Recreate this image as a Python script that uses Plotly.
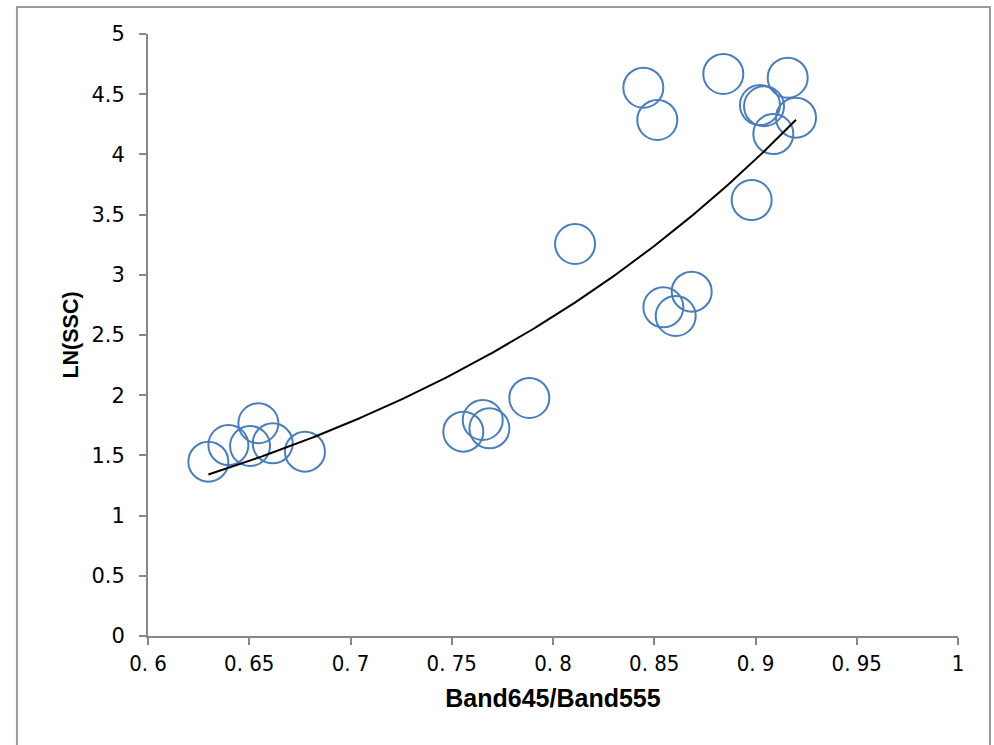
import numpy as np
import plotly.graph_objects as go

# Band645/Band555 ratio (x) and LN(SSC) (y)
band_ratio = [0.6298, 0.6397, 0.6504, 0.6545, 0.6616, 0.6775,
              0.7557, 0.7653, 0.7686, 0.7883,
              0.8109, 0.8446, 0.8515, 0.8545, 0.8606, 0.8685,
              0.8841, 0.8981, 0.9022, 0.9042, 0.9088, 0.9159, 0.9200]
ln_ssc = [1.448, 1.586, 1.578, 1.767, 1.600, 1.531,
          1.697, 1.794, 1.725, 1.977,
          3.256, 4.554, 4.286, 2.730, 2.658, 2.860,
          4.668, 3.621, 4.410, 4.400, 4.169, 4.637, 4.305]

x_tickvals = [0.6, 0.65, 0.7, 0.75, 0.8, 0.85, 0.9, 0.95, 1.0]
x_ticktext = ["0. 6", "0. 65", "0. 7", "0. 75", "0. 8", "0. 85", "0. 9", "0. 95", "1"]
y_tickvals = [0, 0.5, 1, 1.5, 2, 2.5, 3, 3.5, 4, 4.5, 5]
y_ticktext = ["0", "0.5", "1", "1.5", "2", "2.5", "3", "3.5", "4", "4.5", "5"]

# exponential trendline (Excel style: linear fit of ln(y) against x)
xa = np.array(band_ratio)
ya = np.array(ln_ssc)
b, ln_a = np.polyfit(xa, np.log(ya), 1)
trend_x = np.linspace(xa.min(), xa.max(), 200)
trend_y = np.exp(ln_a) * np.exp(b * trend_x)

fig = go.Figure()
fig.add_trace(go.Scatter(
    x=band_ratio, y=ln_ssc, mode="markers",
    marker=dict(symbol="circle-open", size=40, color="#4a7ebb",
                line=dict(width=2, color="#4a7ebb")),
    showlegend=False, hoverinfo="x+y"))
fig.add_trace(go.Scatter(
    x=trend_x, y=trend_y, mode="lines",
    line=dict(color="black", width=2), showlegend=False))

axis_gray = "#878787"
fig.update_xaxes(
    range=[0.6, 1.0], tickvals=x_tickvals, ticktext=x_ticktext,
    showgrid=False, zeroline=False, showline=True, linecolor=axis_gray,
    linewidth=2, ticks="outside", ticklen=7, tickwidth=1.5, tickcolor=axis_gray,
    tickfont=dict(family="DejaVu Sans Condensed, Liberation Sans Narrow, sans-serif",
                  size=22, color="black"),
    title=dict(text="<b>Band645/Band555</b>",
               font=dict(family="Liberation Sans, Arial, sans-serif", size=25, color="black"),
               standoff=14))
fig.update_yaxes(
    range=[0, 5], tickvals=y_tickvals, ticktext=y_ticktext,
    showgrid=False, zeroline=False, showline=True, linecolor=axis_gray,
    linewidth=2, ticks="outside", ticklen=7, tickwidth=1.5, tickcolor=axis_gray,
    ticklabelstandoff=10,
    tickfont=dict(family="DejaVu Sans, Verdana, sans-serif", size=21, color="black"),
    title=dict(text="<b>LN(SSC)</b>",
               font=dict(family="Liberation Sans, Arial, sans-serif", size=21.5, color="black"),
               standoff=7))

fig.add_shape(type="rect", xref="paper", yref="paper",
              x0=-0.1618, x1=0.0395 + 1.0, y0=-0.22, y1=1.045,
              line=dict(color="#9a9a9a", width=2), fillcolor="rgba(0,0,0,0)",
              layer="below")

fig.update_layout(
    width=994, height=745,
    margin=dict(l=148, r=36, t=34, b=109),
    plot_bgcolor="white", paper_bgcolor="white",
)

fig.write_html("out.html")
